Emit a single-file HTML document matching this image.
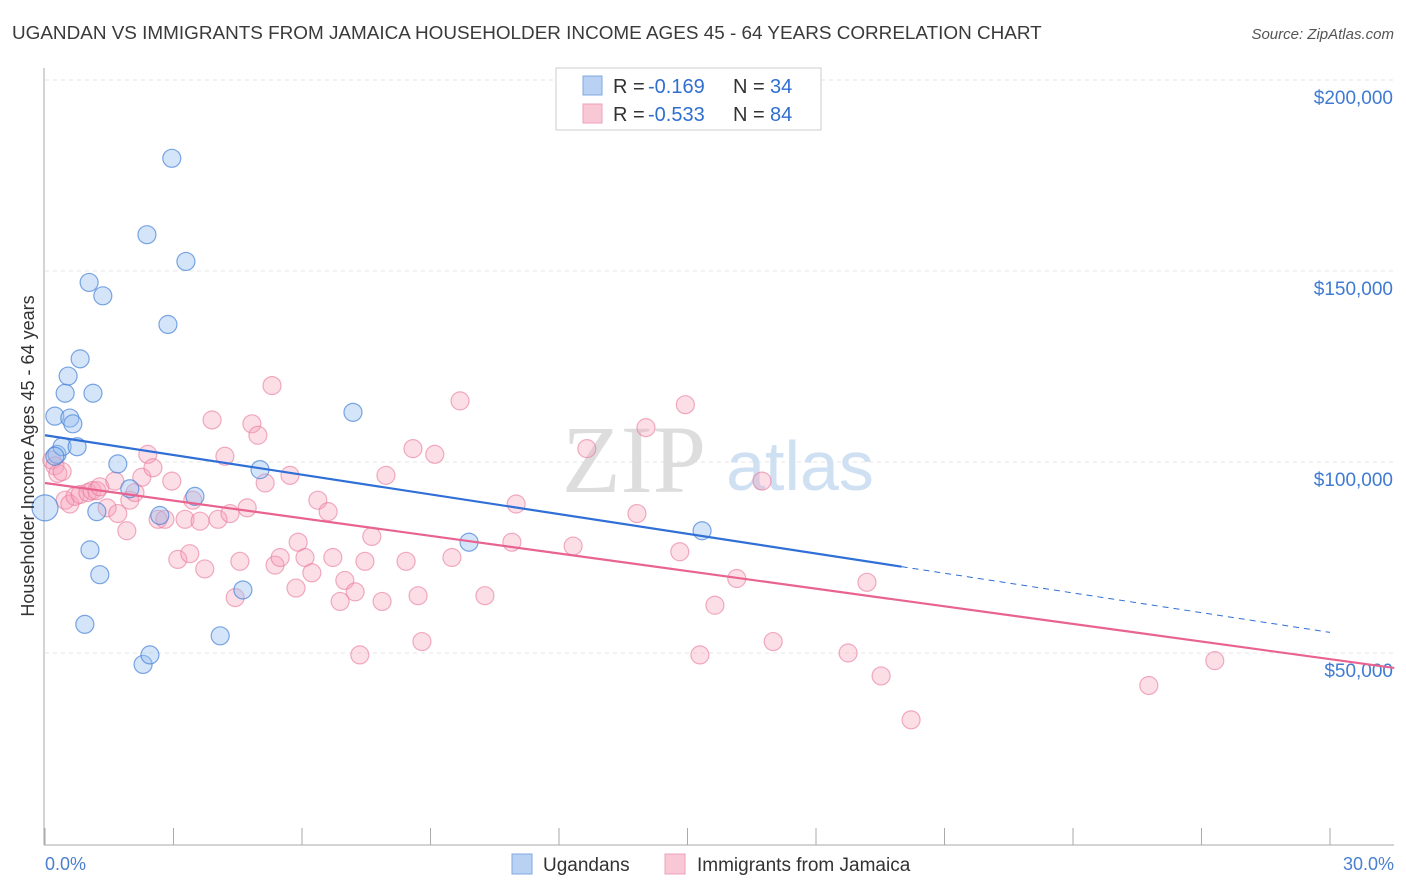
<!DOCTYPE html>
<html><head><meta charset="utf-8"><style>
body{margin:0;background:#fff;font-family:"Liberation Sans",sans-serif;}
svg{display:block}
</style></head><body>
<svg id="c" width="1406" height="892">
<text x="12" y="39" font-size="18.9" fill="#3a3a3a">UGANDAN VS IMMIGRANTS FROM JAMAICA HOUSEHOLDER INCOME AGES 45 - 64 YEARS CORRELATION CHART</text>
<text x="1394" y="39" font-size="15" font-style="italic" fill="#555" text-anchor="end">Source: ZipAtlas.com</text>
<g id="grid"></g>
<text x="634" y="492" font-size="96" font-family="Liberation Serif,serif" fill="#ddd" text-anchor="middle">ZIP</text>
<text x="800" y="490" font-size="70" fill="#cfe0f3" text-anchor="middle">atlas</text>
<g id="pts"></g>
<g id="lines"></g>
<text x="34" y="456" font-size="18" fill="#333" text-anchor="middle" transform="rotate(-90 34 456)">Householder Income Ages 45 - 64 years</text>
<text x="45" y="870" font-size="18" fill="#4a7fd0">0.0%</text>
<text x="1394" y="870" font-size="18" fill="#4a7fd0" text-anchor="end">30.0%</text>
<g>
<rect x="556" y="68" width="265" height="62" fill="#fff" stroke="#ccc"/>
<rect x="583" y="76" width="19" height="19" fill="#b9d2f3" stroke="#7fa8e0"/>
<rect x="583" y="104" width="19" height="19" fill="#f9c8d6" stroke="#eea0b8"/>
<text x="613" y="93" font-size="20" fill="#333">R =</text>
<text x="648" y="93" font-size="20" fill="#2f6fd0">-0.169</text>
<text x="733" y="93" font-size="20" fill="#333">N =</text>
<text x="770" y="93" font-size="20" fill="#2f6fd0">34</text>
<text x="613" y="121" font-size="20" fill="#333">R =</text>
<text x="648" y="121" font-size="20" fill="#2f6fd0">-0.533</text>
<text x="733" y="121" font-size="20" fill="#333">N =</text>
<text x="770" y="121" font-size="20" fill="#2f6fd0">84</text>
</g>
<g>
<rect x="512" y="854" width="20" height="20" fill="#b9d2f3" stroke="#7fa8e0"/>
<text x="543" y="871" font-size="19" fill="#333">Ugandans</text>
<rect x="665" y="854" width="20" height="20" fill="#f9c8d6" stroke="#eea0b8"/>
<text x="697" y="871" font-size="19" fill="#333">Immigrants from Jamaica</text>
</g>
</svg>
<script>
const yTicks=[50000,100000,150000,200000];
const yTickLabels=["$50,000","$100,000","$150,000","$200,000"];
const xTicks=[0,3,6,9,12,15,18,21,24,27,30];
const blueTrend=[107000,-1720];
const pinkTrend=[94500,-1537];
const blueX=[0,0.23,0.28,0.4,0.47,0.54,0.58,0.65,0.75,0.82,0.93,1.03,1.05,1.12,1.21,1.28,1.35,1.7,1.98,2.29,2.38,2.45,2.68,2.87,2.96,3.29,3.5,4.09,4.62,5.02,7.19,9.9,15.34,0.23];
const blueY=[88000,112000,102000,104000,118000,122500,111500,110000,104000,127000,57500,147000,77000,118000,87000,70500,143500,99500,93000,47000,159500,49500,86000,136000,179500,152500,91000,54500,66500,98000,113000,79000,82000,101500];
const pinkX=[0.16,0.23,0.3,0.4,0.47,0.58,0.7,0.82,1.0,1.1,1.21,1.28,1.45,1.63,1.7,1.91,1.98,2.1,2.26,2.4,2.52,2.64,2.8,2.96,3.1,3.27,3.38,3.45,3.62,3.73,3.9,4.04,4.2,4.32,4.44,4.55,4.72,4.83,4.97,5.14,5.3,5.37,5.49,5.72,5.86,5.91,6.07,6.23,6.37,6.61,6.72,6.89,7.0,7.24,7.35,7.47,7.63,7.87,7.96,8.43,8.59,8.71,8.8,9.1,9.5,9.69,10.27,10.9,11.0,12.33,12.65,13.82,14.03,14.82,14.95,15.29,15.64,16.15,16.74,17.0,18.75,19.19,19.52,20.22,25.77,27.31];
const pinkY=[100500,99000,97000,97500,90000,89000,91000,91500,92000,92500,92500,93500,88000,95000,86500,82000,90000,92000,96000,102000,98500,85000,85000,95000,74500,85000,76000,90000,84500,72000,111000,85000,101500,86500,64500,74000,88000,110000,107000,94500,120000,73000,75000,96500,67000,79000,75000,71000,90000,87000,75000,63500,69000,66000,49500,74000,80500,63500,96500,74000,103500,65000,53000,102000,75000,116000,65000,79000,89000,78000,103500,86500,109000,76500,115000,49500,62500,69500,95000,53000,50000,68500,44000,32500,41500,48000];
const svg=document.getElementById('c');
const NS='http://www.w3.org/2000/svg';
const X0=45,X1=1330,YB=844,PPY=191/50000;
const xs=v=>X0+v/30*(X1-X0);
const ys=v=>YB-v*PPY;
function mk(tag,attrs,parent){const e=document.createElementNS(NS,tag);for(const k in attrs)e.setAttribute(k,attrs[k]);parent.appendChild(e);return e;}
const grid=document.getElementById('grid');
for(let i=0;i<yTicks.length;i++){
 const l=mk('line',{x1:45,x2:1394,y1:ys(yTicks[i]),y2:ys(yTicks[i]),stroke:'#e6e6e6','stroke-dasharray':'4,4'},grid);
 
 
 const t=mk('text',{x:1393,y:ys(yTicks[i])+24,'font-size':19,fill:'#3f7bd1','text-anchor':'end'},grid);
 t.textContent=yTickLabels[i];
 
 
}
const ax=mk('line',{x1:44,x2:44,y1:68,y2:845,stroke:'#aaa'},grid);


const bx=mk('line',{x1:44,x2:1394,y1:845,y2:845,stroke:'#aaa'},grid);


for(const t of xTicks){
 const l=mk('line',{x1:xs(t),x2:xs(t),y1:828,y2:845,stroke:'#aaa'},grid);
 
 
}
const pts=document.getElementById('pts');
for(let i=0;i<pinkX.length;i++){
 const c=mk('circle',{cx:xs(pinkX[i]),cy:ys(pinkY[i]),r:9,fill:'rgba(245,160,185,0.35)',stroke:'rgba(232,120,155,0.6)','stroke-width':1.2},pts);
 
 
}
for(let i=0;i<blueX.length;i++){
 const c=mk('circle',{cx:xs(blueX[i]),cy:ys(blueY[i]),r:i==0?13:9,fill:'rgba(150,190,240,0.4)',stroke:'rgba(70,130,215,0.7)','stroke-width':1.2},pts);
 
 
}
const lines=document.getElementById('lines');
const [ba,bb]=blueTrend;
const [pa,pb]=pinkTrend;
let l=mk('line',{x1:xs(0),y1:ys(ba),x2:xs(20),y2:ys(ba+bb*20),stroke:'#2f6fd6','stroke-width':2.2},lines);


l=mk('line',{x1:xs(20),y1:ys(ba+bb*20),x2:xs(30),y2:ys(ba+bb*30),stroke:'#2f6fd6','stroke-width':1,'stroke-dasharray':'6,5'},lines);


l=mk('line',{x1:xs(0),y1:ys(pa),x2:xs(31.5),y2:ys(pa+pb*31.5),stroke:'#e8638f','stroke-width':2.2},lines);


</script>
</body></html>
